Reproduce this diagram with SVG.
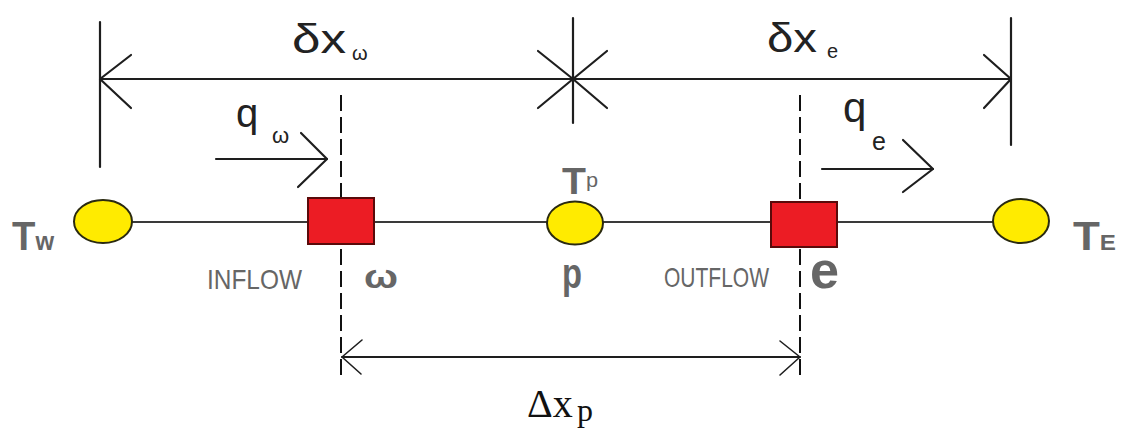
<svg xmlns="http://www.w3.org/2000/svg" width="1121" height="431" viewBox="0 0 1121 431">
<style>
.ln{stroke:#1e1e1e;stroke-width:2.2;fill:none;stroke-linecap:round;stroke-linejoin:round}
.dash{stroke:#111;stroke-width:2;fill:none;stroke-dasharray:16 6}
.node{stroke:#3a3a3a;stroke-width:2;fill:none}
.oval{fill:#FFEB00;stroke:#2a2a10;stroke-width:2}
.box{fill:#EC1C24;stroke:#5a0a0a;stroke-width:2}
.dim{font-family:"Liberation Sans",Arial,sans-serif;fill:#222}
.lab{font-family:"Liberation Sans",Arial,sans-serif;fill:#666}
.serif{font-family:"Liberation Serif","Times New Roman",serif;fill:#111}
</style>
<rect width="1121" height="431" fill="#fff"/>
<g id="connectors">
  <line class="ln" x1="100" y1="22" x2="100" y2="167"/>
  <line class="ln" x1="573" y1="18" x2="573" y2="123"/>
  <line class="ln" x1="1011" y1="18" x2="1011" y2="145"/>
  <line class="ln" x1="100" y1="79" x2="1011" y2="79"/>
  <polyline class="ln" points="131,55 100,79 131,108"/>
  <polyline class="ln" points="538,51 573,79 538,108"/>
  <polyline class="ln" points="607,51 573,79 607,108"/>
  <polyline class="ln" points="984,55 1011,79 984,108"/>
  <line class="ln" x1="216" y1="159" x2="327" y2="159"/>
  <polyline class="ln" points="301,133 327,159 298,187"/>
  <line class="ln" x1="822" y1="169" x2="933" y2="169"/>
  <polyline class="ln" points="903,140 933,169 903,192"/>
  <line class="dash" x1="341" y1="95" x2="341" y2="375"/>
  <line class="dash" x1="800" y1="95" x2="800" y2="375"/>
  <line class="ln" x1="342" y1="357" x2="800" y2="357" style="stroke-width:2"/>
  <polyline class="ln" points="362,340 342,357 361,374" style="stroke-width:1.6"/>
  <polyline class="ln" points="780,341 800,357 780,375" style="stroke-width:1.6"/>
  <line class="node" x1="132" y1="222" x2="993" y2="222"/>
</g>
<g id="node-W">
  <ellipse class="oval" cx="103" cy="221.5" rx="29" ry="21.5"/>
  <text class="lab" x="12" y="250" font-weight="bold" textLength="42" lengthAdjust="spacingAndGlyphs"><tspan font-size="40">T</tspan><tspan font-size="25">w</tspan></text>
</g>
<g id="node-w-face">
  <rect class="box" x="308" y="198" width="66" height="46"/>
  <text class="lab" x="207" y="289" font-size="28" textLength="95" lengthAdjust="spacingAndGlyphs">INFLOW</text>
  <text class="lab" x="364" y="288" font-size="34" font-weight="bold" textLength="34" lengthAdjust="spacingAndGlyphs">ω</text>
</g>
<g id="node-P">
  <ellipse class="oval" cx="575" cy="223" rx="28" ry="21.5"/>
  <text class="lab" x="562" y="194" font-weight="bold" textLength="36" lengthAdjust="spacingAndGlyphs"><tspan font-size="36">T</tspan><tspan font-size="20" font-weight="normal" dy="-7">p</tspan></text>
  <text class="lab" x="562" y="288" font-size="42" font-weight="bold" textLength="20" lengthAdjust="spacingAndGlyphs">p</text>
</g>
<g id="node-e-face">
  <rect class="box" x="771" y="202" width="66" height="45"/>
  <text class="lab" x="664" y="287" font-size="28" textLength="105" lengthAdjust="spacingAndGlyphs">OUTFLOW</text>
  <text class="lab" x="810" y="288" font-size="52" font-weight="bold" textLength="29" lengthAdjust="spacingAndGlyphs">e</text>
</g>
<g id="node-E">
  <ellipse class="oval" cx="1021" cy="221" rx="28" ry="22"/>
  <text class="lab" x="1073" y="250" font-weight="bold" textLength="43" lengthAdjust="spacingAndGlyphs"><tspan font-size="40">T</tspan><tspan font-size="22">E</tspan></text>
</g>
<g id="labels">
  <text class="dim" x="292" y="53" font-size="40" textLength="54" lengthAdjust="spacingAndGlyphs">δx</text>
  <text class="dim" x="352" y="60" font-size="20">ω</text>
  <text class="dim" x="767" y="52" font-size="40" textLength="50" lengthAdjust="spacingAndGlyphs">δx</text>
  <text class="dim" x="827" y="58" font-size="20">e</text>
  <text class="dim" x="236" y="127" font-size="40">q</text>
  <text class="dim" x="272" y="143" font-size="22">ω</text>
  <text class="dim" x="843" y="122" font-size="42">q</text>
  <text class="dim" x="872" y="150" font-size="25">e</text>
  <text class="serif" x="527" y="417" font-size="40">Δx</text>
  <text class="serif" x="577" y="421" font-size="32">p</text>
</g>
</svg>
